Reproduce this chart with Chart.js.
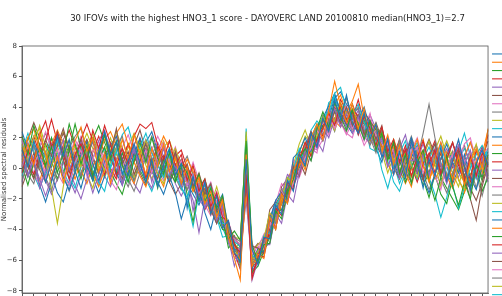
<!DOCTYPE html>
<html>
<head>
<meta charset="utf-8">
<script src="https://cdn.jsdelivr.net/npm/chart.js@4.4.0/dist/chart.umd.min.js"></script>
<style>
html, body {margin: 0; padding: 0; overflow: hidden; background: #fff; width: 502px; height: 296px;}
canvas {display: block;}
</style>
</head>
<body>
<canvas id="myChart" width="535" height="320"></canvas>
<script>
// channel index along the x axis (tick labels are cut off in the picture)
const channels = Array.from({length: 80}, (_, i) => i + 1);
const ifovNames = Array.from({length: 30}, (_, i) => 'IFOV ' + (i + 1));
const colors = ['#1f77b4', '#ff7f0e', '#2ca02c', '#d62728', '#9467bd', '#8c564b', '#e377c2', '#7f7f7f', '#bcbd22', '#17becf'];
const yTicks = [-8, -6, -4, -2, 0, 2, 4, 6, 8];

const ifov01 = [1.2, 0.1, 1.8, 0.6, -0.9, 0.4, 2.1, 0.8, 1.9, -0.2, -1.3, 0.2, -0.8, 1.1, 2.4, 0.9, 1.7, -0.4, 0.5, 1.6, 0.3, -0.9, 0.6, -1.2, 0.2, 1.3, -0.4, 0.3, -2.6, -0.5, -2.1, -0.9, -3.0, -1.8, -3.9, -3.4, -5.5, -6.1, 0.6, -5.3, -6.3, -4.5, -4.6, -2.4, -3.0, -0.8, -1.5, 0.9, 0.2, 2.3, 1.4, 3.3, 2.4, 4.5, 3.2, 4.8, 3.0, 2.3, 3.6, 1.9, 2.9, 0.7, 1.9, -0.4, 1.1, -0.6, 1.8, 0.4, -1.3, 0.6, -0.5, 1.4, -0.8, 0.5, 1.9, 0.1, -1.4, 0.3, 1.2, 0.2];
const ifov02 = [0.4, 1.6, 0.2, 2.3, 1.0, -0.5, 0.8, -0.9, 0.5, 1.8, 2.7, 1.1, 2.0, -0.2, 0.9, -1.0, 0.4, 1.9, 0.6, 2.2, 0.9, -0.4, 1.3, 0.1, 1.6, -0.2, 0.7, -1.0, 0.1, -1.5, -0.6, -2.3, -1.5, -3.2, -2.1, -4.5, -5.9, -7.3, 0.9, -6.4, -5.6, -5.9, -3.2, -4.0, -1.7, -2.3, -0.2, 0.8, -0.1, 2.0, 2.9, 1.9, 3.8, 5.7, 4.1, 3.0, 4.2, 2.6, 3.9, 1.8, 2.8, 1.1, 2.2, 0.3, 1.5, -0.6, 0.9, 1.9, 0.2, -0.9, 0.6, 1.7, 0.4, -0.7, 0.8, -1.1, 0.5, 1.3, 0.0, 2.6];
const ifov03 = [2.1, 0.9, 2.8, 1.5, 0.2, 1.4, -0.3, 1.0, 2.9, 1.6, 0.3, 1.5, -0.5, 0.8, 2.2, 0.6, 1.8, 0.2, -0.9, 0.5, 1.7, 0.4, 2.0, 0.7, -0.4, 1.1, -0.8, 0.3, -0.3, -1.4, -0.4, -2.2, -1.3, -2.6, -1.8, -4.6, -4.1, -4.7, 1.8, -5.0, -6.1, -5.0, -4.9, -2.8, -3.3, -1.6, -0.7, 0.6, 1.3, 0.5, 2.6, 3.7, 2.7, 4.3, 3.4, 2.5, 3.8, 2.9, 1.9, 3.1, 1.2, 2.3, 0.5, 1.7, -0.3, 0.9, -1.0, 0.4, 1.2, -0.8, -2.1, -0.6, 0.8, -1.2, -2.4, -0.9, -2.0, 0.3, -0.6, 0.9];
const ifov04 = [-0.3, 1.2, 0.4, 2.2, 3.1, 1.4, 2.3, 0.6, -0.7, 0.9, 1.6, 0.5, 2.5, 1.3, 2.8, 1.6, 0.2, 1.3, 0.3, 2.1, 2.9, 2.6, 3.0, 1.5, 0.6, 1.8, 0.2, 0.9, -0.8, 0.2, -1.5, -0.7, -2.5, -1.6, -3.2, -3.5, -5.0, -5.5, -0.4, -7.2, -5.8, -4.6, -4.4, -2.6, -3.1, -0.9, -1.4, 0.6, 1.7, 0.8, 1.9, 2.6, 3.6, 2.8, 4.2, 3.1, 3.7, 2.2, 3.4, 2.6, 1.5, 2.7, 1.1, 1.9, 0.4, 1.2, -0.5, 0.7, 1.8, 0.3, 1.2, -0.4, 0.6, 1.7, 0.2, -0.9, 0.8, -0.5, 1.0, 0.1];
const ifov05 = [0.9, -0.5, 0.7, -1.3, -0.2, 1.6, 0.5, 1.9, -0.1, 0.8, 1.7, -0.3, -1.6, -0.4, 0.9, -0.6, 0.6, -1.1, 0.3, 1.2, -0.2, 0.9, -0.9, 0.5, 1.3, -0.4, 0.2, -1.2, -0.3, -2.8, -1.0, -2.6, -1.9, -3.4, -2.5, -4.6, -6.4, -5.2, -0.3, -7.3, -6.0, -5.0, -5.0, -3.0, -3.6, -1.7, -2.2, -0.3, 1.2, 0.5, 1.8, 1.1, 2.9, 3.9, 2.7, 3.6, 2.3, 3.4, 1.9, 2.8, 1.2, 2.0, 0.1, 1.0, -0.6, 0.7, 1.6, -0.2, 0.9, -0.5, 1.3, 0.2, -1.0, 0.6, 1.5, 0.3, 1.2, -0.6, 0.7, -0.9];
const ifov06 = [1.3, 0.2, -0.7, 0.6, 1.9, 0.8, 2.4, 1.1, -0.2, 0.7, 1.9, 0.6, -0.6, 0.9, 2.2, 1.0, 2.6, 0.3, 1.1, -0.4, 0.5, 1.6, 0.2, -0.7, 0.8, -0.2, 1.1, -0.5, 0.3, -1.2, -0.3, -1.7, -1.0, -2.8, -1.9, -4.2, -4.9, -5.8, -0.9, -5.1, -5.2, -5.6, -3.3, -4.0, -1.6, -2.3, 0.1, -0.5, 1.3, 2.4, 1.7, 3.2, 2.5, 3.8, 3.0, 4.0, 2.8, 3.5, 2.2, 3.0, 1.9, 2.8, 0.7, 1.7, -0.4, 0.9, 1.8, 0.2, -0.8, 0.8, 1.6, -0.3, 0.6, -0.9, 1.2, -0.6, -2.0, -3.4, -1.2, 0.3];
const ifov07 = [0.1, 1.4, 0.3, 1.0, -0.7, 0.5, 1.3, -0.4, -1.1, 0.4, 1.2, -0.5, 0.6, 1.5, 0.2, -0.8, -1.4, 0.1, 0.9, 1.6, 0.3, 1.2, -0.3, 0.9, 1.7, 0.4, -0.3, 0.5, -1.1, -0.4, -1.6, -0.9, -2.4, -1.5, -3.0, -4.4, -4.6, -5.0, 0.5, -5.6, -5.1, -5.3, -3.5, -3.9, -1.5, -2.2, -0.9, -0.1, 0.7, 1.3, 2.5, 1.9, 3.5, 2.6, 3.4, 4.1, 2.6, 3.2, 1.8, 2.9, 2.2, 0.8, 1.7, -0.4, 0.8, -0.6, 0.9, 1.4, -0.3, 0.7, -0.5, -1.4, 0.2, 0.9, 1.8, 0.4, 1.1, -0.2, 0.9, 1.3];
const ifov08 = [-0.8, 0.4, 1.5, 0.3, -0.6, -1.5, 0.1, 1.0, 1.8, 0.6, -0.4, 0.9, 1.8, 0.7, 2.2, 0.5, 1.4, 2.1, 0.4, -0.8, 0.2, 1.1, 2.1, 0.9, 0.1, -0.7, 0.8, -0.4, -1.4, -0.5, -1.9, -1.0, -2.5, -3.4, -2.3, -4.7, -4.5, -4.8, 1.4, -6.0, -5.9, -5.0, -3.1, -3.6, -1.4, -1.9, 0.2, -0.3, 0.9, 1.6, 2.7, 1.8, 3.1, 4.3, 3.0, 2.4, 3.4, 4.0, 2.5, 1.5, 2.4, 0.8, 1.3, 0.2, 1.9, 0.1, -0.9, 0.6, 2.3, 4.2, 2.0, 0.3, -0.8, 1.1, -0.1, 0.7, -1.6, -0.3, 0.6, -0.5];
const ifov09 = [1.6, 0.3, 2.1, 2.6, 0.8, -1.3, -3.6, -1.2, 0.6, 1.5, 0.1, 1.4, 2.3, 0.9, -0.2, 1.2, 2.4, 1.3, 0.2, -0.6, 0.9, 1.8, 0.6, -0.3, -1.0, 0.5, 1.3, 0.2, -0.6, -1.3, -0.4, -1.6, -2.4, -1.2, -2.6, -4.0, -5.5, -5.7, 2.4, -6.1, -5.4, -4.6, -2.9, -3.4, -2.0, -0.6, -1.0, 0.6, 1.7, 0.9, 2.1, 3.4, 2.5, 3.2, 4.3, 3.5, 3.9, 2.7, 2.2, 2.9, 1.4, 2.3, 1.2, 0.6, -0.3, 1.1, 0.2, -0.6, 0.7, 1.8, 0.3, -1.2, 0.6, 1.1, -0.8, -1.4, 0.5, 1.6, -0.1, -0.7];
const ifov10 = [-0.2, 1.0, 1.6, 0.4, -0.5, 0.9, 1.8, 0.5, -0.6, -1.3, 0.1, 1.2, -0.1, -0.9, -1.5, 0.2, 1.1, -0.2, -0.9, 0.7, 1.4, 2.3, 1.0, 0.2, -0.6, 0.8, -0.4, -1.3, -1.9, -0.6, -1.5, -2.2, -1.1, -2.9, -3.6, -3.6, -4.8, -5.1, 2.2, -5.7, -6.0, -4.4, -4.2, -2.4, -1.8, -1.1, -0.1, 1.3, 0.5, 1.9, 2.8, 3.3, 3.7, 4.9, 5.3, 3.8, 3.4, 4.2, 3.0, 2.2, 1.8, -0.1, -1.3, 0.2, 1.0, 1.8, 0.3, -0.7, 0.6, 1.4, 0.4, 1.6, 0.1, -1.1, -2.6, -1.2, 0.0, 0.9, 1.5, 0.7];
const ifov11 = [2.4, 1.2, 0.4, -1.1, -2.2, -0.9, 0.5, -0.6, -1.4, -0.2, 0.9, 1.7, 0.3, -0.8, 0.4, 1.5, 2.1, 0.6, -0.5, 0.9, 2.0, 0.9, -0.2, -0.9, -1.7, -0.5, -1.6, -3.3, -2.0, -0.5, -1.3, -2.9, -4.0, -2.4, -1.7, -4.0, -5.3, -5.4, -0.5, -6.6, -5.2, -5.5, -3.4, -2.1, -1.5, -2.2, 0.7, 1.1, 2.0, 1.0, 2.6, 3.3, 4.1, 4.9, 3.6, 2.9, 2.3, 3.2, 4.0, 2.6, 1.3, 0.4, 1.9, 0.4, -0.6, 0.8, 2.0, 0.7, -0.7, -1.6, -0.4, 0.6, 1.6, 0.4, -0.3, 0.9, -0.6, -1.4, 0.1, 1.1];
const ifov12 = [0.8, 2.0, 2.6, 1.1, 0.3, 1.6, 2.5, 1.6, 0.2, -0.7, 0.5, 1.3, -0.3, -1.2, -0.1, 1.0, 2.3, 2.9, 1.5, 0.4, -0.5, -1.2, 0.3, 1.1, 2.1, 1.3, 0.6, -0.3, 0.6, -0.2, -1.1, -1.8, -2.2, -3.1, -2.3, -4.3, -5.0, -6.0, -1.6, -5.9, -6.2, -5.0, -3.6, -3.4, -2.3, -1.0, -0.8, 0.2, 0.7, 2.0, 2.3, 2.6, 3.7, 3.1, 2.7, 3.6, 4.4, 5.5, 3.3, 2.4, 1.8, 1.5, 0.3, -0.4, 0.9, -0.3, -1.2, 0.5, 1.2, -0.8, 0.4, 1.1, -0.5, -1.3, -0.2, 0.8, 1.7, 0.6, -0.3, 0.9];
const ifov13 = [0.2, -1.1, 0.4, 1.3, 0.1, 2.0, 0.6, -0.4, 1.2, 2.9, 1.3, 0.1, -0.8, 0.6, 1.4, -0.2, -1.0, -1.7, -0.3, 0.9, -0.1, -0.9, 0.4, -1.3, 0.6, -0.2, -0.9, 0.1, -1.7, -3.5, -1.3, -0.7, -2.1, -2.8, -3.3, -5.2, -4.8, -6.2, 0.3, -6.8, -6.4, -5.4, -4.5, -2.9, -2.7, -1.4, -0.9, 0.0, 0.9, 1.5, 1.9, 2.8, 3.0, 3.7, 4.0, 3.1, 3.8, 2.5, 3.2, 1.8, 2.7, 2.0, 0.9, 0.2, 0.6, -0.9, 0.1, 0.8, -0.7, -1.9, -0.4, -1.7, -2.3, -0.6, 0.6, -0.5, -1.2, 0.1, -1.5, -0.6];
const ifov14 = [1.5, 0.3, -0.4, 1.0, 1.8, 3.2, 1.7, 0.9, -0.3, 0.8, 1.9, 2.9, 1.8, 0.7, -0.4, 0.9, -0.5, 0.6, 1.6, 0.4, 1.1, -0.6, 0.4, 1.4, 0.2, -0.8, 0.8, 1.2, 0.0, -0.6, -1.8, -0.9, -2.9, -1.8, -2.7, -4.3, -5.6, -5.9, 1.0, -5.5, -5.6, -5.8, -4.0, -3.0, -2.1, -1.6, -0.9, 1.0, 1.2, 2.2, 1.5, 2.8, 3.2, 4.0, 3.5, 2.9, 3.9, 3.4, 2.3, 2.4, 1.4, 2.3, 0.7, 1.6, 0.4, 1.5, 0.2, -0.9, 0.3, 1.0, -0.3, 1.1, -0.8, 0.4, 1.3, 0.1, -0.7, 1.2, 0.3, 2.2];
const ifov15 = [0.6, 1.7, 0.4, -0.7, -1.8, -0.6, 0.5, 1.4, -0.1, -1.1, -2.0, -0.7, 0.6, 1.8, 2.5, 1.0, 0.3, -1.0, 0.2, 1.3, 0.2, -0.6, -1.3, 0.1, 1.3, 0.4, 0.2, -0.9, 0.0, -0.9, -2.0, -2.6, -1.4, -2.5, -3.9, -3.9, -5.1, -5.5, -2.1, -6.4, -5.5, -4.9, -3.3, -3.6, -1.7, -0.4, -0.7, 0.7, 1.5, 2.4, 1.3, 2.6, 3.9, 3.0, 4.1, 2.7, 3.0, 3.8, 2.1, 1.6, 2.4, 1.7, 1.0, 0.2, 1.3, 2.2, 0.5, 0.6, 1.6, 0.4, -0.4, 0.6, 1.3, 0.2, -0.6, 0.7, 1.7, 0.5, 1.3, -0.5];
const ifov16 = [-1.2, -0.1, 1.0, -0.1, -0.9, 0.5, 1.4, 2.3, 1.2, 0.0, 1.1, 1.9, 0.8, -0.3, 0.9, 1.5, 0.4, -0.7, 0.8, 1.5, 2.5, 1.1, 0.3, 1.2, 0.1, -0.9, 0.0, 0.6, -0.6, -1.2, -2.1, -1.3, -2.7, -3.6, -2.5, -4.7, -4.4, -5.2, 1.0, -6.5, -6.0, -5.1, -2.7, -2.2, -2.4, -1.4, -0.1, 0.5, -0.4, 1.1, 2.5, 1.8, 3.0, 3.7, 2.9, 3.5, 2.7, 2.5, 3.7, 3.1, 2.5, 1.4, 0.9, 0.1, -0.7, 0.3, 0.8, -0.3, 1.0, 1.9, 0.9, -0.2, 0.9, 1.7, 0.4, -0.7, -1.3, -2.1, -0.9, 0.4];
const ifov17 = [1.9, 0.8, 0.1, 1.4, 2.4, 1.2, 0.4, -0.6, 0.8, 1.9, 1.0, -0.2, 1.1, 1.8, 0.5, -0.4, 0.6, 1.4, 2.2, 1.0, 0.2, -0.4, 1.2, 2.1, 1.3, 0.5, 1.4, 0.0, -0.7, 0.4, -0.8, -1.6, -0.9, -2.3, -3.0, -4.5, -5.2, -5.3, -0.6, -5.2, -5.2, -4.3, -3.9, -2.3, -1.0, -1.4, 0.6, -0.5, 0.8, 1.3, 1.0, 3.0, 2.2, 3.8, 3.1, 2.3, 2.0, 3.3, 2.6, 3.6, 1.7, 1.1, 2.1, 1.0, 0.0, -0.6, 1.2, 2.0, 0.7, -0.5, 0.5, 1.7, 0.5, -0.8, 0.4, 1.6, 2.0, 0.5, -0.6, 0.7];
const ifov18 = [0.8, -0.4, -1.0, 0.3, 1.1, -0.1, -0.8, 0.5, 1.3, 2.1, 2.6, 1.0, 0.3, -0.9, 0.4, 1.1, 1.7, 0.3, -0.7, -1.5, -0.3, 0.7, 1.4, 0.3, -0.6, 0.1, 0.9, 0.1, 0.8, -0.4, -1.3, -2.3, -2.6, -3.6, -2.3, -4.2, -5.0, -6.5, 0.1, -5.6, -5.8, -5.2, -4.9, -3.0, -2.1, -1.7, -1.0, 0.1, 1.1, 2.0, 1.9, 3.5, 2.6, 2.9, 3.4, 4.6, 3.2, 2.9, 2.5, 2.0, 1.0, 2.5, 1.3, 0.7, 1.6, 0.8, 0.0, 1.3, 0.2, -0.5, 0.8, -0.7, -1.6, -0.3, 0.7, 1.5, 0.1, -1.3, 0.3, -0.7];
const ifov19 = [-0.1, 0.8, 1.6, 2.8, 1.4, 0.2, 1.1, 1.9, 0.7, -0.3, 0.8, -0.4, -1.3, 0.2, 1.0, 2.0, 0.9, 0.1, 1.4, 2.3, 1.3, 0.2, -0.7, 0.4, 1.4, 1.8, 0.7, -0.7, -0.9, 0.1, -0.8, -1.9, -1.1, -3.1, -2.0, -3.8, -4.5, -4.6, 1.3, -5.4, -5.0, -4.5, -4.5, -2.6, -1.6, -1.0, 0.2, 1.6, 2.5, 1.4, 2.4, 3.1, 3.4, 2.5, 3.7, 4.0, 2.9, 3.5, 2.0, 2.7, 2.9, 1.1, -0.3, 0.8, 1.7, 0.4, -0.6, 0.3, 1.1, 0.1, 1.2, 2.1, 0.8, -0.3, -1.2, 0.4, 1.0, -0.1, 0.6, -0.3];
const ifov20 = [1.1, 2.3, 1.1, 0.1, 1.0, 2.0, 1.0, -0.1, -1.1, 0.3, 1.3, 0.3, -0.7, 0.5, 1.3, 0.0, 1.1, 2.2, 2.7, 1.3, 0.2, -0.7, -1.5, -0.4, 0.5, 1.3, 0.1, -1.2, -2.1, -3.8, -1.6, -1.1, -2.6, -3.2, -4.5, -4.4, -5.2, -5.8, 2.6, -5.9, -5.4, -5.5, -3.4, -2.2, -2.3, -0.6, -0.6, 0.8, 0.9, 2.5, 3.1, 2.6, 4.3, 4.6, 3.6, 4.6, 3.4, 2.2, 3.2, 1.3, 1.1, 2.0, 0.5, -0.9, -1.5, -0.2, 0.9, 1.7, 0.6, -0.6, -1.7, -3.2, -1.9, -0.3, 0.6, 1.3, 0.4, -0.7, 0.4, 1.3];
const ifov21 = [0.6, -0.5, 0.7, 1.6, 0.6, -0.4, -1.6, -2.2, -0.8, 0.5, 1.6, 0.5, -0.6, -1.6, -0.5, 0.8, -0.3, -1.1, 0.2, 1.2, 0.4, 1.7, 2.4, 1.1, -0.1, -0.9, -0.1, 0.5, -1.0, -1.7, -2.4, -1.4, -2.5, -1.8, -3.0, -4.4, -5.4, -5.6, -0.3, -6.3, -5.7, -4.8, -3.2, -2.8, -1.6, -2.0, -0.7, 0.6, 0.9, 1.8, 2.0, 3.1, 3.3, 4.6, 5.0, 4.2, 3.7, 3.9, 2.4, 3.1, 1.9, 0.8, 1.5, 0.0, 1.0, -0.1, 0.7, 1.5, 0.5, -0.4, 0.3, 1.0, -0.4, -1.0, 0.0, -0.8, -1.3, -0.2, 0.7, -0.2];
const ifov22 = [2.1, 1.0, 0.2, -0.8, 0.4, 1.3, 2.1, 1.0, 0.2, 1.1, -0.1, -1.0, 0.2, 0.7, 1.9, 2.4, 1.5, 0.6, -0.3, -1.0, 0.4, 1.1, 0.4, -0.4, -1.2, 0.3, 0.9, -0.2, -0.6, -1.5, -0.6, -1.9, -3.0, -2.2, -3.7, -3.8, -4.9, -5.7, 0.6, -6.0, -5.3, -5.1, -3.2, -3.6, -1.8, -1.0, 0.4, 0.2, 1.6, 0.9, 2.1, 3.4, 2.9, 4.2, 4.8, 3.6, 3.5, 2.4, 3.4, 2.6, 2.2, 0.9, 0.6, 1.4, -0.1, -1.0, -0.1, 1.0, 1.9, 0.3, -0.7, -0.1, 1.1, 0.3, -0.7, -1.6, -0.5, 0.5, 0.9, 2.5];
const ifov23 = [1.4, 0.1, -0.6, 0.6, 1.6, 0.5, -0.7, 0.5, 1.5, 0.4, -0.7, 0.6, 1.9, 2.8, 1.7, 0.7, -0.3, 1.0, 0.1, -0.8, 0.5, 1.3, 0.0, -1.1, -0.2, 0.9, -0.1, -1.1, -0.1, -1.0, -1.6, -2.3, -1.7, -3.2, -4.0, -4.1, -5.0, -5.3, 0.0, -6.1, -6.0, -5.2, -3.6, -2.3, -1.7, -1.4, -0.3, 0.9, 0.1, 1.5, 2.7, 1.9, 3.4, 3.9, 3.0, 4.0, 2.6, 3.0, 2.4, 2.8, 1.5, 2.6, 1.1, 0.6, -0.4, 0.9, 1.4, 0.0, -1.1, -0.3, 0.7, -0.6, -1.3, -2.0, -2.7, -1.5, -0.4, 0.3, -0.8, 0.6];
const ifov24 = [0.2, 1.1, 2.1, 0.9, 0.0, -0.8, 0.5, 1.5, 2.5, 1.4, 0.4, -0.3, 1.1, 2.1, 1.0, 0.0, -0.7, 0.5, 1.6, 0.8, 1.9, 0.7, -0.3, 0.7, 1.5, 0.3, -0.5, 0.5, 0.0, -0.6, -1.5, -2.7, -1.9, -2.8, -3.6, -4.6, -5.5, -6.6, -1.0, -6.9, -5.9, -4.9, -3.0, -3.9, -2.2, -1.3, -1.2, 0.3, 0.5, 1.8, 2.8, 2.1, 3.1, 3.2, 4.5, 3.7, 3.2, 4.5, 2.9, 2.5, 1.5, 0.9, 1.8, 0.8, 1.9, 0.5, -0.5, 0.4, -0.6, 0.9, 1.8, 0.2, -0.8, 0.5, 1.5, 0.1, -0.9, 0.4, 1.4, 0.3];
const ifov25 = [-0.9, 0.5, 1.4, 0.3, -0.8, -1.7, -0.7, 0.4, -0.7, -1.6, -0.4, 0.8, 1.7, 0.5, -0.5, -1.2, -0.1, 1.0, -0.1, -1.0, -1.6, -0.3, 0.8, 1.7, 0.8, -0.1, -1.0, -1.8, -1.0, -2.1, -4.2, -2.0, -2.7, -3.6, -2.8, -4.9, -5.8, -6.2, 0.2, -6.7, -6.1, -5.1, -3.3, -2.1, -2.8, -1.6, -1.1, -0.3, 0.4, 1.2, 1.7, 2.7, 2.0, 3.3, 3.4, 2.7, 3.6, 2.8, 2.1, 3.5, 2.6, 1.5, 0.1, 1.2, 0.3, 1.3, 0.2, -0.4, 0.9, 1.7, 0.6, -0.5, 0.7, 1.6, 0.7, -0.2, 0.8, 1.5, 0.5, -0.6];
const ifov26 = [0.9, 1.9, 3.0, 2.0, 0.9, 0.1, 1.5, 2.6, 1.2, 0.3, -0.5, 0.9, 2.0, 1.1, 0.1, -0.7, 0.6, 1.3, 0.2, 1.0, -0.3, -1.1, 0.0, 1.1, 0.0, -0.9, -1.7, -1.0, 0.1, -0.7, -1.8, -1.1, -2.0, -2.7, -3.5, -3.7, -4.6, -5.0, -0.9, -5.4, -4.9, -5.0, -4.0, -3.4, -1.2, -0.7, 0.0, 0.2, 1.2, 2.2, 1.6, 2.5, 3.8, 2.9, 3.6, 3.2, 4.2, 3.2, 2.9, 2.1, 3.0, 1.9, 1.3, 0.3, 0.8, -0.2, -0.9, 0.2, 0.7, -0.3, 1.1, 0.1, -0.9, 0.1, 0.8, -0.5, 0.5, -0.5, 0.6, 1.8];
const ifov27 = [1.8, 0.7, -0.3, -1.1, 0.1, 0.9, -0.3, -1.0, 0.3, 1.3, 2.1, 0.9, -0.3, -1.0, 0.0, 0.9, 2.1, 1.1, 0.0, -0.5, 0.9, 1.8, 0.7, -0.1, -0.8, 0.3, 1.1, 0.0, -1.0, -0.2, -1.5, -2.4, -3.1, -2.1, -3.2, -3.5, -4.7, -5.1, -1.4, -4.9, -5.7, -4.5, -3.5, -2.8, -2.0, -1.3, 0.2, -0.6, 0.5, 1.4, 1.2, 1.9, 2.8, 3.3, 3.0, 2.2, 3.0, 2.6, 1.5, 2.2, 1.3, 1.9, 1.7, 0.7, 1.7, 0.9, 0.1, -0.8, 0.2, 0.8, -0.3, -1.0, 0.2, 0.8, -0.3, 0.8, 1.0, 0.0, -0.4, 0.5];
const ifov28 = [0.4, -0.6, 0.5, 1.4, 2.3, 1.3, 0.4, -0.4, -1.5, -0.3, 0.7, 1.8, 0.6, -0.4, 0.6, 1.7, 0.5, -0.4, -1.2, -0.1, 1.0, 1.9, 1.0, 0.4, 1.3, 0.3, -0.6, -1.4, -0.4, -1.1, -1.3, -2.1, -2.7, -2.2, -2.6, -4.5, -5.1, -5.6, 0.4, -5.9, -5.5, -5.4, -3.1, -2.6, -1.4, -1.1, -0.5, 0.4, 1.0, 2.0, 2.9, 2.2, 3.3, 2.4, 3.9, 3.5, 2.8, 3.5, 3.1, 2.3, 2.0, 0.9, 2.0, 1.0, 0.2, 1.0, 2.1, 0.9, -0.3, -1.4, -0.4, 0.7, 0.1, -0.5, 1.0, 0.0, -1.1, -0.4, -1.8, -0.3];
const ifov29 = [1.1, 2.0, 1.1, 0.1, -0.7, 0.5, 1.7, 2.4, 1.4, 0.5, 1.4, 2.3, 1.3, 0.2, -0.6, 0.4, 1.3, 0.6, -0.5, 0.5, 1.3, 0.5, -0.3, 0.9, 1.8, 0.6, 0.3, -0.5, -1.4, -0.4, -0.9, -1.7, -2.7, -2.9, -2.3, -4.1, -5.2, -4.9, 2.0, -6.0, -5.6, -5.0, -3.5, -2.9, -2.0, -1.2, 0.1, 1.0, 2.1, 1.6, 2.4, 3.1, 2.3, 3.7, 3.2, 3.0, 2.5, 3.1, 3.3, 1.9, 1.4, 1.1, 0.7, 1.9, 0.8, -0.5, 0.4, 1.1, 0.1, -0.8, 0.3, 0.9, 1.8, 0.8, -0.3, -0.9, 0.3, 1.1, 0.3, -0.4];
const ifov30 = [-0.5, 0.7, -0.4, -1.3, -0.2, 1.0, 2.0, 0.9, -0.1, 0.9, 1.7, 0.7, -0.4, -1.1, 0.1, 1.0, -0.1, -0.9, 0.4, 1.4, 0.5, -0.6, 0.5, 1.4, 0.3, -0.6, 0.0, -1.0, -0.2, -1.3, -2.2, -1.5, -2.3, -2.8, -3.9, -4.8, -5.3, -5.9, 1.8, -6.2, -6.1, -5.2, -3.6, -2.7, -2.3, -1.5, -0.3, 0.4, 1.2, 2.1, 1.4, 3.1, 3.5, 4.8, 3.8, 3.3, 2.9, 3.3, 2.7, 1.8, 1.6, 2.4, 0.9, 0.3, -1.0, 0.0, 1.1, 0.3, -0.6, 0.6, 1.6, 0.4, -0.6, 0.7, 1.1, 2.3, 0.8, -0.3, -0.4, 0.7];

const residuals = [ifov01, ifov02, ifov03, ifov04, ifov05, ifov06, ifov07, ifov08, ifov09, ifov10,
    ifov11, ifov12, ifov13, ifov14, ifov15, ifov16, ifov17, ifov18, ifov19, ifov20,
    ifov21, ifov22, ifov23, ifov24, ifov25, ifov26, ifov27, ifov28, ifov29, ifov30];

const datasets = residuals.map((vals, k) => ({
    label: ifovNames[k],
    data: vals,
    borderColor: colors[k % 10],
    backgroundColor: colors[k % 10],
    borderWidth: 1.1,
    pointRadius: 0,
    tension: 0,
    fill: false
}));

// box around the plot like matplotlib spines
const frame = {
    id: 'frame',
    afterDraw(chart) {
        const {ctx, chartArea: a} = chart;
        ctx.save();
        ctx.strokeStyle = '#555';
        ctx.lineWidth = 0.8;
        ctx.strokeRect(a.left, a.top, a.right - a.left, a.bottom - a.top);
        ctx.restore();
    }
};

const font = {family: 'DejaVu Sans', size: 7};
const ctx = document.getElementById('myChart').getContext('2d');
const myChart = new Chart(ctx, {
    type: 'line',
    data: {labels: channels, datasets: datasets},
    options: {
        responsive: false,
        animation: false,
        layout: {padding: 0},
        plugins: {
            title: {
                display: true,
                text: '30 IFOVs with the highest HNO3_1 score - DAYOVERC LAND 20100810 median(HNO3_1)=2.7',
                font: {family: 'DejaVu Sans', size: 8.5, weight: 'normal'},
                color: '#222',
                padding: {top: 14, bottom: 21.8}
            },
            legend: {
                position: 'right',
                align: 'start',
                // empty title only pushes the entries down to the top of the plot
                title: {display: true, text: '', font: {size: 1, lineHeight: 1}, padding: {top: 46.8, bottom: 0}},
                labels: {
                    usePointStyle: true,
                    pointStyle: 'line',
                    pointStyleWidth: 14,
                    padding: 4,
                    font: {family: 'DejaVu Sans', size: 4.3},
                    color: '#333'
                }
            },
            tooltip: {enabled: false}
        },
        scales: {
            x: {
                ticks: {
                    autoSkip: false,
                    maxRotation: 0,
                    font: font,
                    color: '#333',
                    callback: (v, i) => i % 2 === 0 ? channels[i] : null
                },
                grid: {drawOnChartArea: false, tickLength: 3, color: '#555'},
                border: {color: '#555', width: 0.8},
                afterFit: (s) => { s.height = 27; }
            },
            y: {
                min: -8.15,
                max: 8,
                afterBuildTicks: (s) => { s.ticks = yTicks.map(v => ({value: v})); },
                ticks: {
                    font: font,
                    color: '#333',
                    padding: 2,
                    callback: (v) => v < 0 ? '\u2212' + Math.abs(v) : String(v)
                },
                grid: {drawOnChartArea: false, tickLength: 3, color: '#555'},
                border: {color: '#555', width: 0.8},
                title: {display: true, text: 'Normalised spectral residuals', font: font, color: '#333', padding: 0},
                afterFit: (s) => { s.width = 22; }
            }
        }
    },
    plugins: [frame]
});
</script>
</body>
</html>
